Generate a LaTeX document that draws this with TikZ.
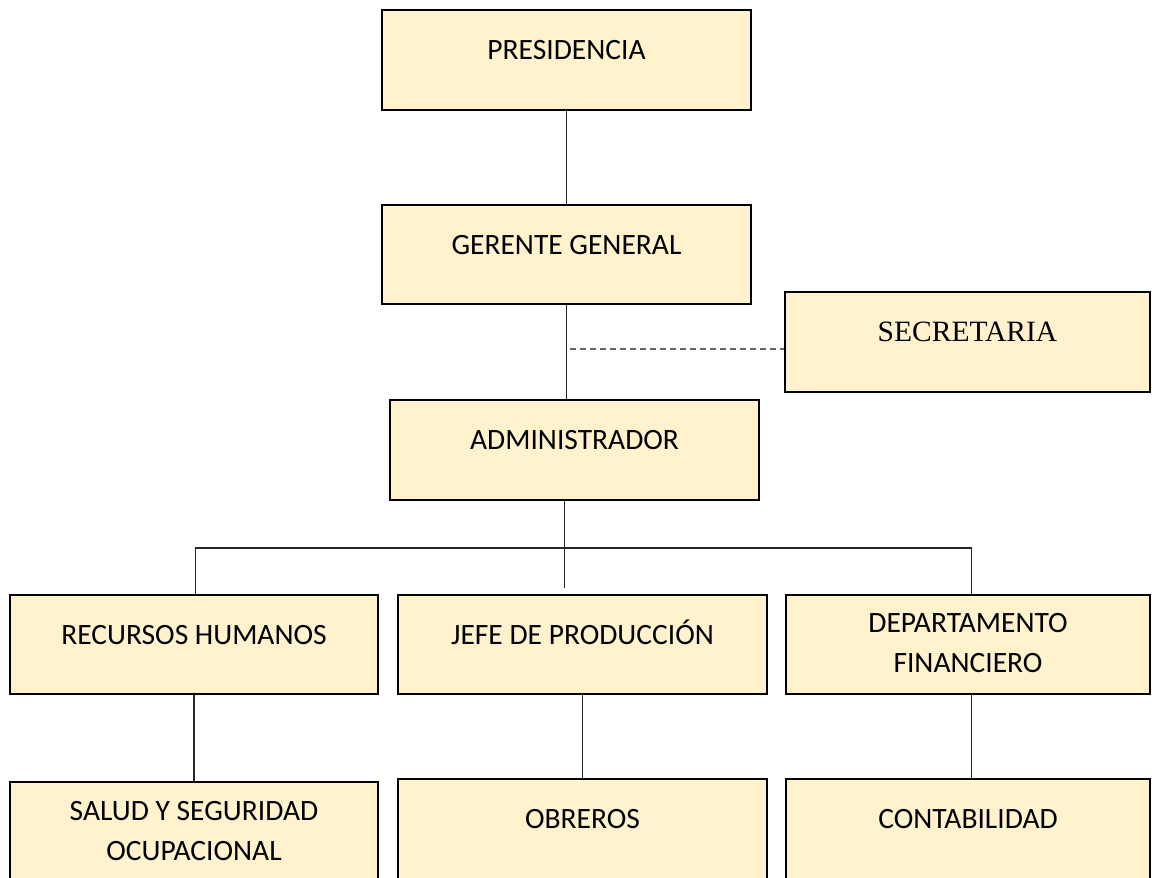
\documentclass[tikz,border=0pt]{standalone}
\usepackage{fontspec}
\setmainfont{Carlito}
\newfontfamily\timesfont{Liberation Serif}
\definecolor{cajafill}{HTML}{FFF2CC}
\begin{document}
\begin{tikzpicture}[x=1pt, y=-1pt,
  caja/.style={draw=black, fill=cajafill, line width=2.8pt, inner sep=0pt, rectangle},
  texto/.style={font=\fontsize{29.5}{40}\selectfont, align=center, text=black},
  uno/.style={texto, text height=19pt, text depth=0pt, yshift=10pt},
  linea/.style={line width=1.1pt, black!85}]

  \useasboundingbox (0,0) rectangle (1152,878);

  % boxes
  \node[caja, minimum width=369pt, minimum height=100pt, label={[uno]center:PRESIDENCIA}] (pres) at (566.5, 60) {};
  \node[caja, minimum width=369pt, minimum height=99pt, label={[uno]center:GERENTE GENERAL}] (ger) at (566.5, 254.5) {};
  \node[caja, minimum width=365pt, minimum height=100pt, label={[uno, font=\timesfont\fontsize{29.5}{40}\selectfont]center:SECRETARIA}] (secr) at (967.5, 342) {};
  \node[caja, minimum width=369pt, minimum height=100pt, label={[uno]center:ADMINISTRADOR}] (adm) at (574.5, 450) {};

  \node[caja, minimum width=368pt, minimum height=99pt, label={[uno]center:RECURSOS HUMANOS}] (rrhh) at (194, 644.5) {};
  \node[caja, minimum width=369pt, minimum height=99pt, label={[uno]center:JEFE DE PRODUCCIÓN}] (jefe) at (582.5, 644.5) {};
  \node[caja, minimum width=364pt, minimum height=99pt, label={[texto, yshift=1pt]center:DEPARTAMENTO\\FINANCIERO}] (fin) at (968, 644.5) {};

  \node[caja, minimum width=368pt, minimum height=100pt, label={[texto, yshift=1pt]center:SALUD Y SEGURIDAD\\OCUPACIONAL}] (salud) at (194, 832) {};
  \node[caja, minimum width=369pt, minimum height=100pt, label={[uno]center:OBREROS}] (obr) at (582.5, 829) {};
  \node[caja, minimum width=364pt, minimum height=100pt, label={[uno]center:CONTABILIDAD}] (cont) at (968, 829) {};

  % helper points
  \coordinate (d) at (570, 349);
  \coordinate (m) at (564.5, 588);
  \coordinate (hl) at (195.5, 548);
  \coordinate (hr) at (971.5, 548);

  % lines
  \draw[linea] (pres) -- (ger);
  \draw[linea] (ger.south) -- (ger.south |- adm.north);
  \draw[line width=1.1pt, black!60, dash pattern=on 6pt off 4pt] (d) -- (d -| secr.west);
  \draw[linea] (m |- adm.south) -- (m);
  \draw[linea] (hl |- rrhh.north) -- (hl) -- (hr) -- (hr |- fin.north);
  \draw[linea] (rrhh) -- (salud);
  \draw[linea] (jefe) -- (obr);
  \draw[linea] (hr |- fin.south) -- (hr |- cont.north);

\end{tikzpicture}
\end{document}
